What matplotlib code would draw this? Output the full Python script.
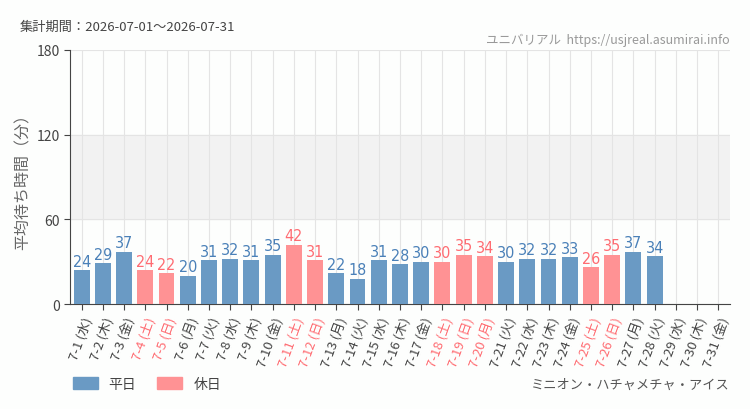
import matplotlib.pyplot as plt
from matplotlib.patches import Patch
import numpy as np

plt.rcParams['font.family'] = ['Noto Sans CJK JP', 'DejaVu Sans']

# data
days = list(range(1, 32))
weekdays = ['水', '木', '金', '土', '日', '月', '火'] * 5
weekdays = weekdays[:31]
waits = [24, 29, 37, 24, 22, 20, 31, 32, 31, 35, 42, 31, 22, 18, 31, 28,
         30, 30, 35, 34, 30, 32, 32, 33, 26, 35, 37, 34, None, None, None]
holidays = [4, 5, 11, 12, 18, 19, 20, 25, 26]

blue = '#6a9ac4'
pink = '#ff9294'
blue_txt = '#4a80b8'
pink_txt = '#ff6c72'

fig = plt.figure(figsize=(7.5, 4.1), dpi=100)
fig.patch.set_facecolor('#fdfefd')
ax = fig.add_axes([0.0933, 0.256, 0.88, 0.62])
ax.set_facecolor('#fdfefd')

x = np.arange(len(days))
for i, d in enumerate(days):
    v = waits[i]
    if v is None:
        continue
    hol = d in holidays
    ax.bar(i, v, width=0.75, color=pink if hol else blue, zorder=3)
    ax.text(i, v + 1, str(v), ha='center', va='bottom', fontsize=11.5,
            color=pink_txt if hol else blue_txt, family='DejaVu Sans',
            fontstretch='condensed', zorder=4)

ax.axhspan(60, 120, color='#f2f2f2', zorder=0)
ax.set_ylim(0, 180)
ax.set_xlim(-0.55, len(days) - 0.45)
ax.set_yticks([0, 60, 120, 180])
ax.set_yticklabels(['0', '60', '120', '180'], fontsize=10, color='#444444')
ax.set_xticks(x)
ax.set_xticklabels([f'7-{d} ({w})' for d, w in zip(days, weekdays)],
                   rotation=70, ha='right', rotation_mode='anchor', fontsize=9.5)
for lbl, d in zip(ax.get_xticklabels(), days):
    lbl.set_color(pink_txt if d in holidays else '#444444')

ax.grid(True, color='#e4e4e4', linewidth=0.8, zorder=1)
for s in ['top', 'right']:
    ax.spines[s].set_visible(False)
for s in ['left', 'bottom']:
    ax.spines[s].set_color('#444444')
ax.tick_params(axis='both', length=4, color='#444444')
ax.set_ylabel('平均待ち時間（分）', fontsize=11.5, color='#666666')
ax.yaxis.set_label_coords(-0.058, 0.5)

fig.text(20 / 750, 1 - 27 / 410, '集計期間：2026-07-01～2026-07-31', fontsize=9.5,
         color='#444444', va='center')
fig.text(730 / 750, 1 - 40 / 410, 'ユニバリアル  https://usjreal.asumirai.info', fontsize=9,
         color='#999999', va='center', ha='right')
fig.text(730 / 750, 1 - 385 / 410, 'ミニオン・ハチャメチャ・アイス', fontsize=9.5,
         color='#555555', va='center', ha='right')

handles = [Patch(color=blue, label='平日'), Patch(color=pink, label='休日')]
fig.legend(handles=handles, loc='center left', bbox_to_anchor=(60 / 750, 1 - 385 / 410),
           ncol=2, frameon=False, fontsize=10, handlelength=1.8, handleheight=0.9,
           columnspacing=1.5, labelcolor='#444444')

fig.savefig('out.png', dpi=100, facecolor=fig.get_facecolor())
